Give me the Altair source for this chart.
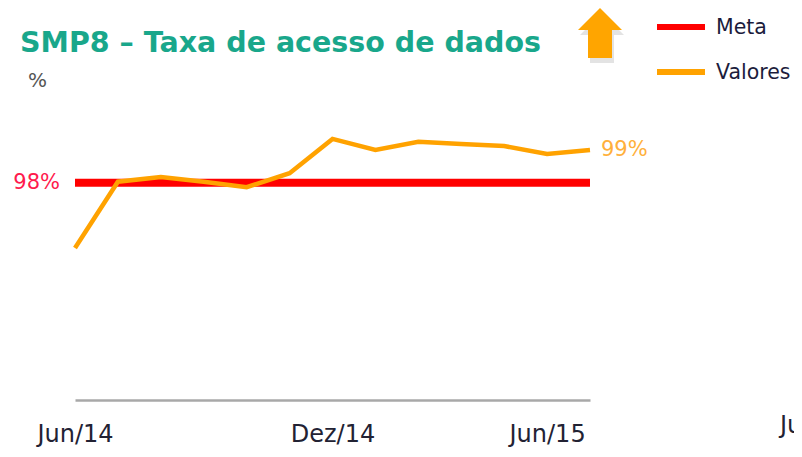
import altair as alt
import pandas as pd

# ---- data ----
title_text = "SMP8 \u2013 Taxa de acesso de dados"
unit_text = "%"
x_index = [0, 1, 2, 3, 4, 5, 6, 7, 8, 9, 10, 11, 12]
values = [96.0, 98.03, 98.17, 98.03, 97.86, 98.29, 99.34, 99.0, 99.25, 99.18, 99.12, 98.88, 99.0]
meta_value = 98.0
tick_values = [0, 6, 11]
tick_labels = ["Jun/14", "Dez/14", "Jun/15"]
legend_names = ["Meta", "Valores"]
legend_colors = ["#ff0000", "#ffa200"]
stray_label = "Jun/15"

FONT = "DejaVu Sans"

line_df = pd.DataFrame({"i": x_index, "v": values})
meta_df = pd.DataFrame({"i": [x_index[0]], "i2": [x_index[-1]], "v": [meta_value],
                        "lab": [f"{meta_value:.0f}%"]})
last_df = pd.DataFrame({"i": [x_index[-1]], "v": [values[-1]], "lab": [f"{round(values[-1]):.0f}%"]})

# label expression from the tick lists
expr = "''"
for val, lab in reversed(list(zip(tick_values, tick_labels))):
    expr = f"datum.value == {val} ? '{lab}' : ({expr})"

x_scale = alt.Scale(domain=[0, 12], nice=False, zero=False)
y_scale = alt.Scale(domain=[91.35, 100.53], nice=False, zero=False)
x_axis = alt.Axis(values=tick_values, labelExpr=expr, title=None, grid=False, ticks=False,
                  tickSize=0, domainColor="#a8a8a8", domainWidth=2.5, labelPadding=41,
                  labelBaseline="alphabetic", labelFontSize=24, labelColor="#222233",
                  labelFont=FONT, labelAlign="center")

X = lambda: alt.X("i:Q", scale=x_scale, axis=x_axis)
Y = lambda: alt.Y("v:Q", scale=y_scale, axis=None)

meta_rule = alt.Chart(meta_df).mark_rule(color=legend_colors[0], strokeWidth=8).encode(
    x=X(), x2="i2:Q", y=Y())

line = alt.Chart(line_df).mark_line(color=legend_colors[1], strokeWidth=4.5).encode(
    x=X(), y=Y())

meta_label = alt.Chart(meta_df).mark_text(
    align="right", baseline="middle", dx=-15, fontSize=21, color="#ff1a4d", font=FONT
).encode(x=X(), y=Y(), text="lab:N")

last_label = alt.Chart(last_df).mark_text(
    align="left", baseline="middle", dx=11, fontSize=21, color="#ffb03b", font=FONT
).encode(x=X(), y=Y(), text="lab:N")

one = pd.DataFrame({"t": [title_text]})
title = alt.Chart(one).mark_text(
    align="left", baseline="alphabetic", fontSize=28.5, fontWeight="bold", color="#19a78b", font=FONT
).encode(x=alt.value(-55), y=alt.value(-48), text="t:N")

unit = alt.Chart(pd.DataFrame({"t": [unit_text]})).mark_text(
    align="left", baseline="alphabetic", fontSize=20, color="#555555", font=FONT
).encode(x=alt.value(-47), y=alt.value(-13), text="t:N")

arrow_path = "M0,-1L0.88,-0.12L0.48,-0.12L0.48,1L-0.48,1L-0.48,-0.12L-0.88,-0.12Z"
arrow_shadow = alt.Chart(one).mark_point(
    shape=arrow_path, filled=True, size=2500, color="#808080", opacity=0.22, strokeWidth=0
).encode(x=alt.value(527), y=alt.value(-62))
arrow = alt.Chart(one).mark_point(
    shape=arrow_path, filled=True, size=2500, color="#ffa500", opacity=1, strokeWidth=0
).encode(x=alt.value(525), y=alt.value(-67))

leg_layers = []
for k, (name, col) in enumerate(zip(legend_names, legend_colors)):
    yy = -73 + 45 * k
    leg_layers.append(
        alt.Chart(pd.DataFrame({"t": [name]})).mark_rule(color=col, strokeWidth=6).encode(
            x=alt.value(582), x2=alt.value(630), y=alt.value(yy))
    )
    leg_layers.append(
        alt.Chart(pd.DataFrame({"t": [name]})).mark_text(
            align="left", baseline="middle", fontSize=20.5, color="#1c1c3c", font=FONT
        ).encode(x=alt.value(641), y=alt.value(yy + 1), text="t:N")
    )

stray = alt.Chart(pd.DataFrame({"t": [stray_label]})).mark_text(
    align="left", baseline="alphabetic", fontSize=24, color="#222233", font=FONT
).encode(x=alt.value(705), y=alt.value(333), text="t:N")

chart = alt.layer(
    meta_rule, line, meta_label, last_label, title, unit, arrow_shadow, arrow, stray, *leg_layers
).properties(
    width=515, height=300,
    padding={"left": 67, "top": 92, "right": 204, "bottom": 49},
    autosize="none",
).configure(font=FONT).configure_view(strokeWidth=0, stroke="transparent")

chart.save("out.html", embed_options={"renderer": "svg", "actions": False})
